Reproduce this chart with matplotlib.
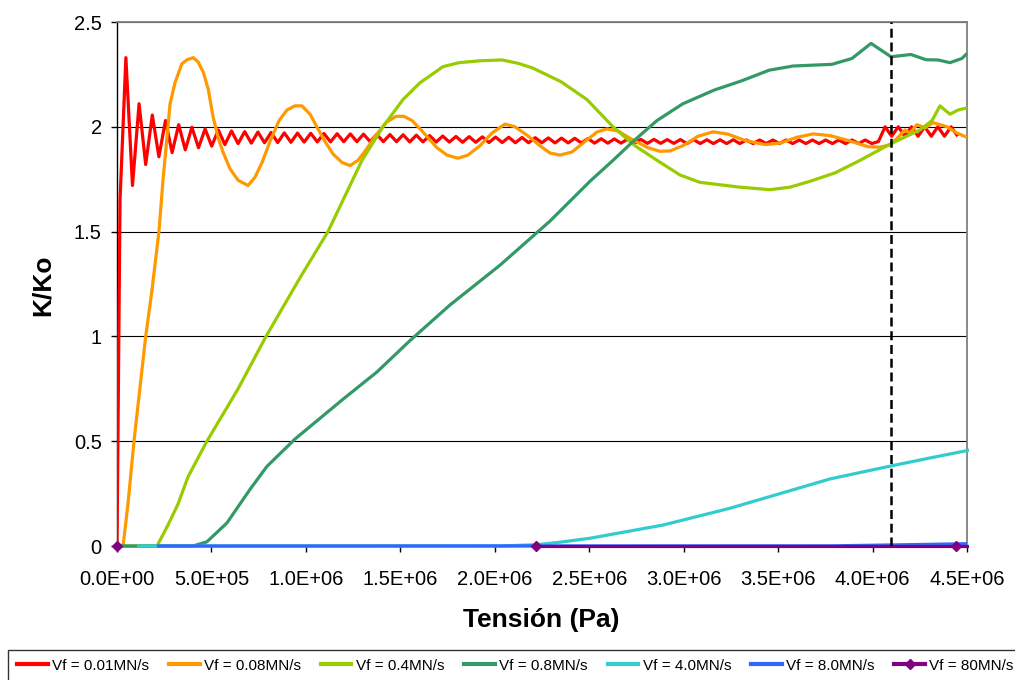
import numpy as np
import matplotlib
matplotlib.use("Agg")
import matplotlib.pyplot as plt
from matplotlib.lines import Line2D
from matplotlib.patches import Rectangle
from matplotlib import font_manager

plt.rcParams['font.family'] = ['Liberation Sans', 'DejaVu Sans']

# ---------------- data ----------------
labels = ["Vf = 0.01MN/s", "Vf = 0.08MN/s", "Vf = 0.4MN/s", "Vf = 0.8MN/s",
          "Vf = 4.0MN/s", "Vf = 8.0MN/s", "Vf = 80MN/s"]
colors = ["#FF0000", "#FF9900", "#99CC00", "#339966", "#33CCCC", "#3366FF", "#800080"]

# 0.01 MN/s : initial rise, then extrema sampled every half period
red_rise_x = [0.0, 1.6e4]
red_rise_y = [0.0, 1.65]
red_osc_start = 4.7e4
red_half_period = 3.495e4
red_osc_y = [
    2.33, 1.72, 2.11, 1.82, 2.056, 1.857, 2.03, 1.877, 2.01, 1.89, 1.998, 1.90, 1.99, 1.908,
    1.985, 1.915, 1.98, 1.92, 1.977, 1.922, 1.975, 1.924, 1.973, 1.925, 1.971, 1.926,
    1.970, 1.927, 1.969, 1.928, 1.968, 1.928, 1.967, 1.929, 1.966, 1.929, 1.965, 1.929,
    1.964, 1.929, 1.963, 1.929, 1.962, 1.928, 1.960, 1.928, 1.958, 1.927, 1.956, 1.927,
    1.954, 1.926, 1.953, 1.926, 1.952, 1.925, 1.951, 1.925, 1.950, 1.924, 1.949, 1.924,
    1.948, 1.924, 1.947, 1.923, 1.946, 1.923, 1.945, 1.923, 1.944, 1.922, 1.943, 1.922,
    1.942, 1.922, 1.941, 1.921, 1.940, 1.921, 1.940, 1.921, 1.939, 1.921, 1.939, 1.920,
    1.939, 1.920, 1.938, 1.920, 1.938, 1.920, 1.938, 1.920, 1.937, 1.920, 1.937, 1.920,
    1.937, 1.920, 1.937, 1.920, 1.937, 1.920, 1.937, 1.920, 1.937, 1.920, 1.937, 1.920,
    1.937, 1.920, 1.937, 1.920,
    1.930, 2.000, 1.955, 2.000, 1.955, 2.000, 1.955, 2.000, 1.955, 2.000, 1.955, 2.000, 1.955,
]

# 0.08 MN/s
orange_x = [0, 3.2e4, 5.8e4, 9.0e4, 1.52e5, 1.85e5, 2.22e5, 2.44e5, 2.81e5, 3.07e5, 3.43e5,
            3.71e5, 4.04e5, 4.29e5, 4.57e5, 4.83e5, 5.08e5, 5.35e5, 5.61e5, 5.98e5, 6.41e5,
            6.94e5, 7.31e5, 7.68e5, 8.10e5, 8.58e5, 9.00e5, 9.42e5, 9.79e5, 1.022e6, 1.064e6,
            1.101e6, 1.144e6, 1.191e6, 1.234e6, 1.276e6, 1.318e6, 1.371e6, 1.424e6, 1.477e6,
            1.519e6, 1.562e6, 1.615e6, 1.694e6, 1.747e6, 1.805e6, 1.858e6, 1.922e6, 1.985e6,
            2.054e6, 2.107e6, 2.171e6, 2.239e6, 2.292e6, 2.345e6, 2.409e6, 2.478e6, 2.541e6,
            2.594e6, 2.652e6, 2.726e6, 2.811e6, 2.875e6, 2.928e6, 2.996e6, 3.076e6, 3.155e6,
            3.235e6, 3.325e6, 3.431e6, 3.510e6, 3.600e6, 3.685e6, 3.775e6, 3.870e6, 3.976e6,
            4.039e6, 4.098e6, 4.172e6, 4.198e6, 4.235e6, 4.278e6, 4.320e6, 4.357e6, 4.394e6,
            4.447e6, 4.5e6]
orange_y = [0, 0, 0.2, 0.5, 1.0, 1.22, 1.5, 1.75, 2.11, 2.21, 2.30,
            2.32, 2.33, 2.31, 2.26, 2.18, 2.05, 1.95, 1.88, 1.80, 1.745,
            1.72, 1.76, 1.83, 1.93, 2.03, 2.08, 2.10, 2.10, 2.06, 1.99,
            1.93, 1.87, 1.83, 1.815, 1.84, 1.89, 1.96, 2.02, 2.05,
            2.05, 2.03, 1.98, 1.90, 1.865, 1.85, 1.865, 1.91, 1.97,
            2.013, 2.00, 1.96, 1.91, 1.875, 1.865, 1.88, 1.93, 1.975,
            1.99, 1.98, 1.94, 1.90, 1.883, 1.885, 1.91, 1.955, 1.976,
            1.965, 1.935, 1.915, 1.922, 1.95, 1.966, 1.958, 1.935, 1.905,
            1.903, 1.915, 1.985, 1.97, 2.01, 1.995, 2.02, 2.01, 2.00,
            1.97, 1.95]

# 0.4 MN/s
yellow_x = [0, 2.12e5, 2.70e5, 3.23e5, 3.76e5, 4.76e5, 6.41e5, 7.89e5, 9.69e5, 1.117e6,
            1.207e6, 1.297e6, 1.408e6, 1.514e6, 1.604e6, 1.726e6, 1.811e6, 1.922e6, 2.038e6,
            2.123e6, 2.202e6, 2.351e6, 2.488e6, 2.626e6, 2.742e6, 2.859e6, 2.981e6, 3.086e6,
            3.298e6, 3.457e6, 3.563e6, 3.669e6, 3.801e6, 3.934e6, 4.098e6, 4.251e6, 4.315e6,
            4.357e6, 4.383e6, 4.410e6, 4.452e6, 4.5e6]
yellow_y = [0, 0, 0.1, 0.2, 0.33, 0.5, 0.75, 1.0, 1.28, 1.5,
            1.67, 1.84, 2.0, 2.13, 2.21, 2.287, 2.306, 2.315, 2.319,
            2.303, 2.28, 2.215, 2.13, 2.0, 1.91, 1.84, 1.77, 1.735,
            1.712, 1.70, 1.712, 1.74, 1.78, 1.84, 1.92, 1.985, 2.03,
            2.10, 2.08, 2.06, 2.08, 2.09]

# 0.8 MN/s
green_x = [0, 4.02e5, 4.76e5, 5.82e5, 7.04e5, 7.94e5, 9.42e5, 1.196e6, 1.376e6, 1.551e6,
           1.763e6, 2.028e6, 2.292e6, 2.504e6, 2.626e6, 2.732e6, 2.859e6, 2.996e6, 3.161e6,
           3.309e6, 3.452e6, 3.579e6, 3.785e6, 3.891e6, 3.992e6, 4.045e6, 4.098e6, 4.203e6,
           4.283e6, 4.346e6, 4.410e6, 4.473e6, 4.5e6]
green_y = [0, 0, 0.02, 0.11, 0.27, 0.38, 0.51, 0.70, 0.83, 0.98,
           1.15, 1.34, 1.55, 1.74, 1.84, 1.93, 2.03, 2.11, 2.175,
           2.22, 2.27, 2.29, 2.298, 2.326, 2.398, 2.366, 2.334, 2.345,
           2.32, 2.319, 2.306, 2.326, 2.35]

# 4.0 MN/s
cyan_x = [1.06e5, 2.028e6, 2.22e6, 2.345e6, 2.504e6, 2.891e6, 3.245e6, 3.510e6, 3.775e6,
          4.098e6, 4.304e6, 4.516e6]
cyan_y = [0, 0.0, 0.006, 0.018, 0.037, 0.10, 0.18, 0.25, 0.32, 0.382, 0.42, 0.458]

# 8.0 MN/s
blue_x = [2.12e5, 3.8e6, 4.1e6, 4.5e6]
blue_y = [0, 0.001, 0.005, 0.011]

# 80 MN/s
purple_x = [0, 2.22e6, 4.44e6, 6.66e6]
purple_y = [0, 0, 0, 0]

x_ticks = [0, 5e5, 1e6, 1.5e6, 2e6, 2.5e6, 3e6, 3.5e6, 4e6, 4.5e6]
x_ticklabels = ["0.0E+00", "5.0E+05", "1.0E+06", "1.5E+06", "2.0E+06",
                "2.5E+06", "3.0E+06", "3.5E+06", "4.0E+06", "4.5E+06"]
y_ticks = [0, 0.5, 1, 1.5, 2, 2.5]
y_ticklabels = ["0", "0.5", "1", "1.5", "2", "2.5"]
marker_line_x = 4.1e6

# ---------------- figure ----------------
fig = plt.figure(figsize=(10.15, 6.8), dpi=100)
ax = fig.add_axes([117 / 1015, 134 / 680, 850 / 1015, 524 / 680])

clip_rect = Rectangle((0, -0.012), 1.002, 1.012, transform=ax.transAxes,
                      facecolor='none', edgecolor='none')

red_x = red_rise_x + list(red_osc_start + red_half_period * np.arange(len(red_osc_y)))
red_y = red_rise_y + red_osc_y

lw = 2.3
series = [(red_x, red_y), (orange_x, orange_y), (yellow_x, yellow_y), (green_x, green_y),
          (cyan_x, cyan_y), (blue_x, blue_y)]
for i, (xs, ys) in enumerate(series):
    ln, = ax.plot(xs, ys, color=colors[i], lw=lw, solid_joinstyle='round',
                  solid_capstyle='butt', zorder=3 + i)
    ln.set_clip_path(clip_rect)

ln, = ax.plot(purple_x[1:], purple_y[1:], color=colors[6], lw=lw, zorder=10)
ln.set_clip_path(clip_rect)
ax.plot(purple_x[:3], purple_y[:3], ls='none', marker='D', ms=5.5, color=colors[6],
        zorder=11, clip_on=False)

ax.axvline(marker_line_x, color='black', lw=1.8, ls=(0, (3.6, 1.9)), zorder=12)

ax.set_xlim(0, 4.5e6)
ax.set_ylim(0, 2.5)
ax.set_xticks(x_ticks)
ax.set_xticklabels(x_ticklabels)
ax.set_yticks(y_ticks)
ax.set_yticklabels(y_ticklabels)
ax.tick_params(axis='both', direction='out', length=4.5, width=1, labelsize=14.5,
               colors='black')
ax.tick_params(axis='x', pad=12.5)
ax.tick_params(axis='y', pad=6.5)
ax.grid(axis='y', color='black', lw=0.8, zorder=1)
ax.set_axisbelow(True)

for s in ['left', 'bottom']:
    ax.spines[s].set_color('black')
    ax.spines[s].set_linewidth(1.0)
    ax.spines[s].set_zorder(2)
for s in ['top', 'right']:
    ax.spines[s].set_color('#808080')
    ax.spines[s].set_linewidth(1.3)

fig.text(43 / 1015, 1 - 285 / 680, "K/Ko", rotation=90, ha='center', va='center',
         fontsize=19, fontweight='bold')
fig.text(541 / 1015, 1 - 620 / 680, "Tensión (Pa)", ha='center', va='center',
         fontsize=19, fontweight='bold')

# legend font: narrow if available
try:
    font_manager.findfont(font_manager.FontProperties(family='Liberation Sans Narrow'),
                          fallback_to_default=False)
    leg_family, leg_size = ['Liberation Sans Narrow', 'Liberation Sans'], 12.5
except Exception:
    leg_family, leg_size = ['Liberation Sans', 'DejaVu Sans'], 11

handles = [Line2D([], [], color=c, lw=3) for c in colors[:6]]
handles.append(Line2D([], [], color=colors[6], lw=3, marker='D', ms=5.5))
leg = fig.legend(handles, labels, loc='lower left', ncol=7, mode='expand',
                 bbox_to_anchor=(8 / 1015, -2 / 680, 1015 / 1015, 40 / 680),
                 frameon=True, fancybox=False, edgecolor='black',
                 prop={'family': leg_family, 'size': leg_size},
                 handlelength=2.0, handletextpad=0.3, columnspacing=1.0,
                 borderaxespad=0, borderpad=0.6)
leg.get_frame().set_linewidth(1.0)

fig.savefig("out.png", dpi=100)
